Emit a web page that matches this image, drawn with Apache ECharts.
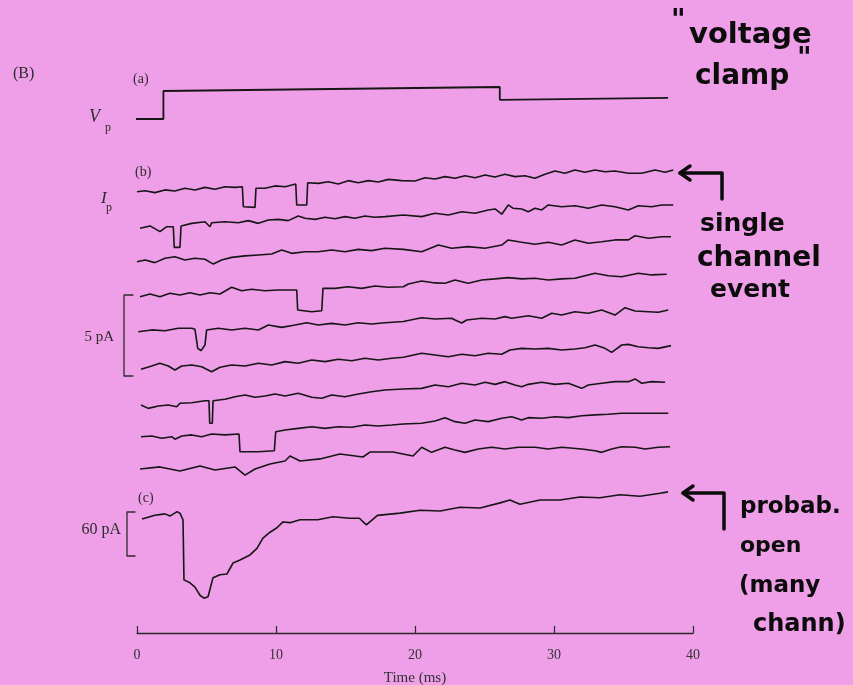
<!DOCTYPE html>
<html>
<head>
<meta charset="utf-8">
<script src="https://cdn.jsdelivr.net/npm/echarts@6/dist/echarts.min.js"></script>
<style>
    html, body, #main {
        width: 100%;
        height: 100%;
        margin: 0;
    }
    body {
        background: #EE9FE7;
    }
</style>
</head>
<body>
<div id="main"></div>
<script>
// time scale bar, ms
var timeTicks = [0, 10, 20, 30, 40];

// (a) command potential  [t (ms), mV]
var vpTrace = [[-0.65, -80], [1.9, -80], [1.9, -10], [14, -5], [26.1, 0], [26.1, -32], [38.2, -27]];

// (b) single channel sweeps  [t (ms), pA relative to sweep start]
var sweep1 = [[0, 0.02], [0.58, 0.08], [1.29, -0.04], [2.01, 0.13], [2.73, 0.06], [3.45, 0.23], [4.17, 0.13], [4.89, 0.29], [5.61, 0.17], [6.33, 0.33], [7.05, 0.29], [7.58, 0.33], [7.65, -0.92], [8.49, -0.96], [8.56, 0.23], [9.21, 0.23], [9.93, 0.38], [10.65, 0.33], [11.42, 0.5], [11.49, -0.81], [12.21, -0.81], [12.28, 0.58], [13.04, 0.54], [13.76, 0.64], [14.48, 0.5], [15.2, 0.71], [15.92, 0.58], [16.64, 0.71], [17.36, 0.63], [18.08, 0.79], [19.04, 0.71], [20.0, 0.69], [20.72, 0.89], [21.44, 0.81], [22.16, 0.96], [22.88, 0.86], [23.6, 1.02], [24.32, 0.89], [25.04, 1.06], [25.76, 0.94], [26.47, 1.11], [27.19, 0.96], [27.91, 1.02], [28.63, 0.86], [29.35, 1.11], [30.07, 1.31], [30.79, 1.17], [31.51, 1.38], [32.23, 1.23], [32.95, 1.38], [33.67, 1.27], [34.39, 1.31], [35.35, 1.17], [36.31, 1.17], [37.27, 1.38], [37.99, 1.23], [38.58, 1.38]];
var sweep2 = [[0.22, -0.02], [0.94, 0.13], [1.65, -0.23], [2.14, 0.08], [2.61, 0.08], [2.68, -1.21], [3.09, -1.21], [3.17, 0.13], [3.94, 0.29], [4.89, 0.39], [5.25, 0.08], [5.37, 0.33], [6.33, 0.39], [7.29, 0.33], [8.01, 0.46], [8.73, 0.29], [9.45, 0.5], [10.17, 0.54], [10.88, 0.46], [11.6, 0.75], [12.09, 0.61], [12.81, 0.54], [13.53, 0.67], [14.24, 0.58], [14.96, 0.71], [15.68, 0.61], [16.4, 0.75], [17.12, 0.67], [17.84, 0.71], [19.16, 0.81], [20.48, 0.71], [21.44, 0.92], [22.4, 0.81], [23.36, 1.02], [24.32, 0.92], [25.27, 1.13], [25.76, 1.19], [26.24, 0.86], [26.71, 1.44], [27.07, 1.23], [27.68, 1.19], [28.15, 1.02], [28.63, 1.23], [29.12, 1.13], [29.59, 1.44], [30.55, 1.33], [31.51, 1.39], [32.47, 1.23], [33.43, 1.44], [34.39, 1.33], [35.35, 1.13], [36.06, 1.39], [37.03, 1.33], [37.75, 1.44], [38.58, 1.44]];
var sweep3 = [[0, 0.02], [0.58, 0.13], [1.29, -0.04], [2.01, 0.23], [2.73, 0.33], [3.45, 0.13], [4.17, 0.23], [4.89, 0.17], [5.49, -0.13], [6.09, 0.13], [6.81, 0.29], [7.77, 0.38], [8.73, 0.44], [9.69, 0.5], [10.41, 0.75], [11.13, 0.54], [12.09, 0.64], [13.04, 0.64], [14.01, 0.75], [14.96, 0.64], [15.92, 0.79], [16.88, 0.71], [17.84, 0.86], [19.16, 0.79], [20.48, 0.64], [21.68, 1.06], [22.64, 0.86], [23.83, 0.96], [25.04, 0.86], [26.24, 1.06], [26.71, 1.38], [27.68, 1.23], [28.63, 1.11], [29.59, 1.23], [30.55, 1.06], [31.51, 1.38], [32.47, 1.17], [33.43, 1.27], [34.39, 1.38], [35.35, 1.38], [35.83, 1.64], [36.79, 1.48], [37.75, 1.58], [38.42, 1.58]];
var sweep4 = [[0.22, 0.02], [0.94, 0.19], [1.65, 0.02], [2.37, 0.23], [3.09, 0.13], [3.81, 0.27], [4.53, 0.13], [5.25, 0.27], [5.97, 0.19], [6.81, 0.61], [7.53, 0.39], [8.25, 0.48], [9.21, 0.39], [10.17, 0.44], [11.49, 0.44], [11.56, -0.81], [12.57, -0.92], [13.29, -0.86], [13.38, 0.54], [14.24, 0.54], [15.2, 0.64], [16.17, 0.54], [17.12, 0.69], [18.08, 0.61], [19.16, 0.64], [19.52, 0.81], [20.48, 1.0], [21.44, 0.88], [22.16, 0.86], [22.88, 1.06], [23.83, 0.86], [24.8, 1.06], [25.76, 1.13], [26.71, 1.21], [27.68, 1.13], [28.63, 1.17], [29.59, 1.06], [30.55, 1.13], [31.51, 1.17], [32.95, 1.48], [33.91, 1.33], [34.87, 1.27], [36.06, 1.48], [37.03, 1.38], [38.11, 1.42]];
var sweep5 = [[0.09, 0.02], [1.06, 0.13], [2.01, 0.08], [2.97, 0.23], [3.94, 0.23], [4.17, 0.17], [4.37, -1.02], [4.6, -1.17], [4.89, -0.81], [5.01, 0.13], [5.85, 0.23], [6.81, 0.13], [7.77, 0.23], [8.73, 0.13], [9.45, 0.44], [10.41, 0.29], [11.37, 0.44], [12.21, 0.58], [13.04, 0.44], [14.01, 0.54], [14.96, 0.44], [15.92, 0.58], [16.88, 0.5], [17.84, 0.58], [19.16, 0.66], [20.48, 0.89], [21.44, 0.81], [22.64, 0.86], [22.88, 0.75], [23.36, 0.56], [23.72, 0.75], [24.8, 0.86], [25.76, 0.81], [26.47, 0.96], [26.96, 0.86], [28.15, 1.02], [29.12, 0.86], [29.83, 1.17], [30.55, 1.06], [31.51, 1.27], [32.47, 1.17], [33.43, 1.38], [34.39, 1.06], [35.11, 1.52], [35.83, 1.31], [36.79, 1.27], [37.5, 1.23], [38.22, 1.38]];
var sweep6 = [[0.29, -0.02], [1.06, 0.19], [1.65, 0.36], [2.25, 0.19], [2.73, -0.06], [3.22, 0.19], [3.94, 0.25], [4.65, 0.14], [5.37, -0.17], [5.97, 0.11], [6.81, 0.25], [7.77, 0.19], [8.73, 0.36], [9.69, 0.25], [10.65, 0.46], [11.6, 0.36], [12.57, 0.56], [13.53, 0.46], [14.48, 0.61], [15.45, 0.52], [16.4, 0.67], [17.36, 0.56], [18.32, 0.67], [19.16, 0.73], [20.48, 0.98], [21.44, 0.88], [22.4, 0.77], [23.36, 0.92], [24.32, 0.83], [25.27, 0.98], [26.24, 0.92], [26.83, 1.19], [27.68, 1.29], [28.63, 1.25], [29.59, 1.29], [30.55, 1.19], [31.51, 1.25], [32.23, 1.33], [32.95, 1.5], [33.67, 1.29], [34.15, 1.04], [34.87, 1.5], [35.35, 1.54], [36.06, 1.39], [36.79, 1.33], [37.5, 1.29], [38.42, 1.46]];
var sweep7 = [[0.29, 0], [0.81, -0.21], [1.53, -0.06], [2.25, 0], [2.86, -0.11], [3.09, 0.11], [3.94, 0.14], [4.89, 0.27], [5.18, 0.27], [5.23, -1.14], [5.42, -1.14], [5.47, 0.27], [6.33, 0.36], [7.05, 0.52], [7.77, 0.63], [8.49, 0.48], [9.21, 0.56], [9.93, 0.69], [10.65, 0.56], [11.6, 0.73], [12.57, 0.48], [13.29, 0.42], [14.01, 0.63], [14.96, 0.52], [15.92, 0.69], [16.88, 0.83], [17.84, 0.94], [19.16, 1.0], [20.48, 1.04], [21.44, 1.25], [22.4, 1.14], [23.36, 1.36], [24.32, 1.25], [25.04, 1.42], [25.76, 1.29], [26.47, 1.46], [27.19, 1.25], [27.68, 1.14], [28.15, 1.29], [29.12, 1.42], [30.07, 1.29], [31.03, 1.36], [31.99, 1.04], [32.47, 1.25], [33.43, 1.36], [34.39, 1.46], [35.35, 1.46], [35.83, 1.63], [36.31, 1.36], [37.03, 1.46], [37.99, 1.42]];
var sweep8 = [[0.29, 0.02], [1.06, 0.06], [1.78, -0.08], [2.5, 0.02], [2.73, -0.14], [3.22, 0.06], [3.94, 0.13], [4.65, 0.02], [5.37, 0.19], [6.33, 0.13], [7.34, 0.19], [7.41, -0.92], [8.73, -0.92], [9.88, -0.86], [9.98, 0.33], [10.65, 0.44], [11.6, 0.54], [12.57, 0.64], [13.53, 0.54], [14.48, 0.64], [15.45, 0.61], [16.4, 0.75], [17.36, 0.69], [18.32, 0.75], [19.16, 0.81], [20.48, 0.86], [21.44, 1.0], [22.16, 1.21], [22.88, 0.96], [23.6, 0.86], [24.32, 1.06], [25.27, 0.96], [26.24, 1.17], [26.96, 1.27], [27.68, 1.06], [28.15, 1.21], [29.12, 1.17], [30.07, 1.27], [31.03, 1.21], [31.99, 1.33], [32.95, 1.38], [33.91, 1.42], [34.87, 1.48], [35.83, 1.48], [36.79, 1.48], [38.22, 1.48]];
var sweep9 = [[0.22, 0], [1.65, 0.13], [3.09, -0.13], [4.53, 0.19], [5.61, -0.06], [7.05, 0.13], [7.77, -0.38], [8.49, 0], [9.57, 0.31], [10.65, 0.5], [11.01, 0.81], [11.73, 0.5], [13.17, 0.63], [14.6, 0.94], [16.26, 0.75], [16.76, 1.06], [18.42, 1.06], [19.86, 0.81], [20.48, 1.36], [21.2, 1.04], [22.16, 1.36], [22.88, 1.19], [23.6, 1.04], [24.55, 1.25], [25.52, 1.36], [26.47, 1.25], [27.43, 1.36], [28.63, 1.36], [29.59, 1.25], [30.55, 1.36], [31.99, 1.25], [32.95, 1.14], [33.43, 1.04], [34.15, 1.25], [34.87, 1.39], [35.83, 1.36], [36.55, 1.25], [37.5, 1.36], [38.35, 1.39]];

// (c) ensemble current  [t (ms), pA]
var ensembleTrace = [[0.36, 0], [1.29, 5], [2.01, 7], [2.37, 4], [2.88, 10], [3.09, 8], [3.31, -1], [3.38, -83], [3.81, -87], [4.17, -93], [4.53, -104], [4.82, -108], [5.11, -106], [5.47, -80], [5.97, -76], [6.47, -75], [6.91, -60], [7.41, -56], [8.13, -49], [8.63, -40], [9.06, -26], [9.57, -18], [10.07, -12], [10.5, -4], [11.01, -5], [11.73, -1], [13.0, -1], [14.1, 3], [15.3, 1], [16.0, 1], [16.5, -8], [17.3, 5], [18.92, 8], [20.36, 12], [21.8, 11], [23.24, 16], [24.68, 15], [26.12, 22], [26.83, 26], [27.55, 20], [29.0, 26], [30.43, 26], [31.87, 30], [33.3, 29], [34.75, 33], [36.19, 31], [37.63, 35], [38.2, 37]];

var sweeps = [sweep1, sweep2, sweep3, sweep4, sweep5, sweep6, sweep7, sweep8, sweep9];

// layout
var PLOT_LEFT = 137;
var PLOT_RIGHT = 160;
var sweepBaseY = [192, 228, 262, 297, 332, 369, 405, 437, 469];
var INK = '#161616';
var SERIF = '"Liberation Serif", "DejaVu Serif", serif';
var HAND = '"DejaVu Sans", "Noto Sans", sans-serif';

var chart = echarts.init(document.getElementById('main'));

var grids = [];
var xAxes = [];
var yAxes = [];
var series = [];

function addPanel(top, height, ymin, ymax, data, width) {
    var i = grids.length;
    grids.push({ left: PLOT_LEFT, right: PLOT_RIGHT, top: top, height: height, outerBoundsMode: 'none' });
    xAxes.push({ gridIndex: i, type: 'value', min: 0, max: 40, show: false });
    yAxes.push({ gridIndex: i, type: 'value', min: ymin, max: ymax, show: false });
    series.push({
        type: 'line',
        xAxisIndex: i,
        yAxisIndex: i,
        data: data,
        symbol: 'none',
        clip: false,
        lineStyle: { color: INK, width: width }
    });
}

// (a) Vp: 0.4 px per mV
addPanel(79, 48, -100, 20, vpTrace, 1.8);
// (b) sweeps: 16 px per pA
sweeps.forEach(function (s, k) {
    addPanel(sweepBaseY[k] - 32, 64, -2, 2, s, 1.6);
});
// (c) ensemble: ~0.73 px per pA
addPanel(475, 132, -120, 60, ensembleTrace, 1.6);

// time scale bar
var ti = grids.length;
grids.push({ left: PLOT_LEFT, right: PLOT_RIGHT, top: 560, height: 73, outerBoundsMode: 'none' });
xAxes.push({
    gridIndex: ti,
    type: 'value',
    min: timeTicks[0],
    max: timeTicks[timeTicks.length - 1],
    interval: 10,
    axisLine: { show: true, lineStyle: { color: '#2a2a2a', width: 1.3 } },
    axisTick: { show: true, inside: true, length: 7, lineStyle: { color: '#2a2a2a', width: 1.2 } },
    splitLine: { show: false },
    axisLabel: { fontFamily: SERIF, fontSize: 14, color: '#333', margin: 15 },
    name: 'Time (ms)',
    nameLocation: 'middle',
    nameGap: 38,
    nameTextStyle: { fontFamily: SERIF, fontSize: 15, color: '#333' }
});
yAxes.push({ gridIndex: ti, type: 'value', min: 0, max: 1, show: false });

function label(text, x, y, size, opts) {
    opts = opts || {};
    return {
        type: 'text',
        x: x,
        y: y,
        silent: true,
        style: {
            text: text,
            fill: opts.fill || '#2d2d2d',
            font: (opts.style || 'normal') + ' ' + (opts.weight || 'normal') + ' ' + size + 'px ' + (opts.family || SERIF),
            align: opts.align || 'left',
            verticalAlign: 'middle'
        }
    };
}

function hand(text, x, y, size) {
    return label(text, x, y, size || 27, { family: HAND, weight: 'bold', fill: '#0c0c0c' });
}

function stroke(points, w, color) {
    return {
        type: 'polyline',
        silent: true,
        shape: { points: points },
        style: { stroke: color || '#2d2d2d', lineWidth: w, fill: null, lineJoin: 'round', lineCap: 'round' }
    };
}

var graphics = [
    label('(B)', 13, 74, 16),
    label('(a)', 133, 79, 14),
    label('V', 89, 117, 18, { style: 'italic' }),
    label('p', 105, 128, 12),
    label('(b)', 135, 172, 14),
    label('I', 101, 199, 17, { style: 'italic' }),
    label('p', 106, 208, 12),
    label('5 pA', 114, 337, 15, { align: 'right' }),
    stroke([[133, 295], [124, 295], [124, 376], [133, 376]], 1.3),
    label('(c)', 138, 498, 14),
    label('60 pA', 121, 530, 16, { align: 'right' }),
    stroke([[135, 512], [127, 512], [127, 556], [135, 556]], 1.3),

    // handwritten notes
    hand('"', 671, 22, 28),
    hand('voltage', 689, 35, 29),
    hand('clamp', 695, 77, 28),
    hand('"', 797, 60, 28),
    stroke([[680, 173], [722, 173], [722, 199]], 3.5, '#0c0c0c'),
    stroke([[690, 166], [680, 173], [690, 180]], 3.5, '#0c0c0c'),
    hand('single', 700, 224, 25),
    hand('channel', 697, 259, 28),
    hand('event', 710, 290, 25),
    stroke([[683, 493], [724, 493], [724, 529]], 3.5, '#0c0c0c'),
    stroke([[693, 486], [683, 493], [693, 500]], 3.5, '#0c0c0c'),
    hand('probab.', 740, 507, 23),
    hand('open', 740, 546, 22),
    hand('(many', 739, 586, 23),
    hand('chann)', 753, 625, 24)
];

chart.setOption({
    backgroundColor: '#EE9FE7',
    animation: false,
    grid: grids,
    xAxis: xAxes,
    yAxis: yAxes,
    series: series,
    graphic: graphics
});
</script>
</body>
</html>
